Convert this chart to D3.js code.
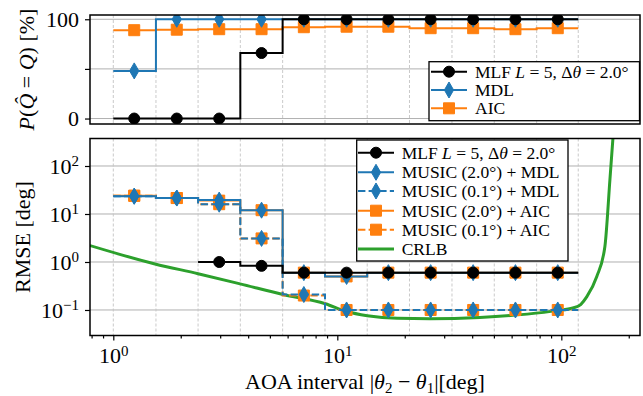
<!DOCTYPE html>
<html>
<head>
<meta charset="utf-8">
<script src="https://cdn.jsdelivr.net/npm/d3@7"></script>
<style>
  body { margin: 0; background: #fff; }
  svg { display: block; font-family: "Liberation Serif", serif; }
</style>
</head>
<body>
<svg id="chart" width="643" height="396"></svg>
<script>
// bin edges and bin centres of the AOA interval (deg)
const edges = [1.00, 1.55, 2.39, 3.69, 5.70, 8.81, 13.6, 21.0, 32.5, 50.2, 77.6, 119];
const mids  = [1.24, 1.92, 2.97, 4.59, 7.09, 11.0, 16.9, 26.1, 40.4, 62.4, 96.4];

// top panel: P(Q^ = Q) [%]
const pMLF = [0, 0, 0, 66, 100, 100, 100, 100, 100, 100, 100];
const pMDL = [48, 100, 100, 100, 100, 100, 100, 100, 100, 100, 100];
const pAIC = [89, 89.5, 90, 90, 92, 92.5, 92.5, 91, 91, 90, 91];

// bottom panel: RMSE [deg]
const rMLF    = [null, null, 1.0, 0.83, 0.6, 0.6, 0.6, 0.6, 0.6, 0.6, 0.6];
const rMDL2   = [23.5, 21.5, 19.5, 12, 0.6, 0.5, 0.6, 0.6, 0.6, 0.6, 0.6];
const rMDL01  = [23.5, 21.5, 16, 3.1, 0.21, 0.1, 0.1, 0.1, 0.1, 0.1, 0.1];
const rAIC2   = [24, 21.5, 19, 12, 0.6, 0.5, 0.6, 0.6, 0.6, 0.6, 0.6];
const rAIC01  = [24, 21.5, 16, 3.1, 0.2, 0.1, 0.1, 0.1, 0.1, 0.1, 0.1];

// CRLB curve [x, y]
const crlb = [[0.787, 2.2], [1.535, 0.91], [2.39, 0.57], [3.68, 0.35], [5.72, 0.21],
  [8.84, 0.135], [11.0, 0.093], [13.6, 0.076], [18.5, 0.067], [25.9, 0.066],
  [43.3, 0.07], [70.4, 0.082], [95.6, 0.097], [112.6, 0.11], [122, 0.13],
  [130, 0.19], [144, 0.5], [156.5, 2.1], [164.8, 52], [170, 380]];

const xMajor = [1, 10, 100];
const xMinor = [0.8, 0.9, 2, 3, 4, 5, 6, 7, 8, 9, 20, 30, 40, 50, 60, 70, 80, 90, 200];
const pTicks = [0, 50, 100];
const rTicks = [0.1, 1, 10, 100];

const C = { black: "#000", blue: "#1f77b4", orange: "#ff7f0e", green: "#2ca02c" };

const svg = d3.select("#chart");
const L = 90, R = 640;
const top1 = 15, bot1 = 124, top2 = 138.5, bot2 = 335.5;
const FS = 22, LFS = 17.5;

const x = d3.scaleLog().domain([0.787, 224.5]).range([L, R]);
const yP = d3.scaleLinear().domain([-5.5, 104.3]).range([bot1, top1]);
const yR = d3.scaleLog().domain([0.0294, 374]).range([bot2, top2]);

const defs = svg.append("defs");
defs.append("clipPath").attr("id", "clip1").append("rect")
  .attr("x", L).attr("y", top1).attr("width", R - L).attr("height", bot1 - top1);
defs.append("clipPath").attr("id", "clip2").append("rect")
  .attr("x", L).attr("y", top2).attr("width", R - L).attr("height", bot2 - top2);

function sup(sel, base, exp) {
  sel.text(null);
  sel.append("tspan").text(base);
  sel.append("tspan").attr("dy", "-0.5em").attr("font-size", "15px").text(exp);
}

function expLabel(v) {
  const e = Math.round(Math.log10(v));
  return e < 0 ? "\u2212" + (-e) : String(e);
}

// grid
function grid(g, y, yt, t, b) {
  g.selectAll(".hg").data(yt).join("line")
    .attr("x1", L).attr("x2", R).attr("y1", d => y(d)).attr("y2", d => y(d))
    .attr("stroke", "#b0b0b0").attr("stroke-width", 1);
  g.selectAll(".vg").data(edges).join("line")
    .attr("x1", d => x(d)).attr("x2", d => x(d)).attr("y1", t).attr("y2", b)
    .attr("stroke", "#c4c4c4").attr("stroke-width", 0.9).attr("stroke-dasharray", "3,2");
}
grid(svg.append("g"), yP, pTicks, top1, bot1);
grid(svg.append("g"), yR, rTicks, top2, bot2);

function stepPoints(vals) {
  const pts = [];
  let last = -1;
  vals.forEach((v, i) => { if (v != null) { pts.push([edges[i], v]); last = i; } });
  pts.push([edges[last + 1], vals[last]]);
  return pts;
}

const diamond = d3.symbol().type(d3.symbolDiamond).size(74)();
const square = d3.symbol().type(d3.symbolSquare).size(121)();
const circle = d3.symbol().type(d3.symbolCircle).size(95)();

function series(g, y, vals, color, dashed, marker) {
  const line = d3.line().x(d => x(d[0])).y(d => y(d[1])).curve(d3.curveStepAfter);
  g.append("path").datum(stepPoints(vals)).attr("d", line)
    .attr("fill", "none").attr("stroke", color).attr("stroke-width", 2)
    .attr("stroke-dasharray", dashed ? "7.4,3.2" : null);
  g.selectAll(null).data(vals.map((v, i) => [mids[i], v]).filter(d => d[1] != null))
    .join("path").attr("d", marker)
    .attr("transform", d => `translate(${x(d[0])},${y(d[1])})`)
    .attr("fill", color).attr("stroke", color).attr("stroke-width", 1);
}

// top panel
const g1 = svg.append("g").attr("clip-path", "url(#clip1)");
series(g1, yP, pAIC, C.orange, false, square);
series(g1, yP, pMDL, C.blue, false, diamond);
series(g1, yP, pMLF, C.black, false, circle);

// bottom panel
const g2 = svg.append("g").attr("clip-path", "url(#clip2)");
g2.append("path").datum(crlb)
  .attr("d", d3.line().x(d => x(d[0])).y(d => yR(d[1])).curve(d3.curveMonotoneX))
  .attr("fill", "none").attr("stroke", C.green).attr("stroke-width", 3);
series(g2, yR, rAIC01, C.orange, true, square);
series(g2, yR, rAIC2, C.orange, false, square);
series(g2, yR, rMDL01, C.blue, true, diamond);
series(g2, yR, rMDL2, C.blue, false, diamond);
series(g2, yR, rMLF, C.black, false, circle);

// frames
[[top1, bot1], [top2, bot2]].forEach(([t, b]) => {
  svg.append("rect").attr("x", L).attr("y", t).attr("width", R - L).attr("height", b - t)
    .attr("fill", "none").attr("stroke", "#000").attr("stroke-width", 1.5);
});

// axes
svg.append("g").attr("transform", `translate(${L},0)`)
  .call(d3.axisLeft(yP).tickValues(pTicks).tickSize(5).tickPadding(6)
    .tickFormat(d => d === 50 ? "" : d));
const ay2 = svg.append("g").attr("transform", `translate(${L},0)`)
  .call(d3.axisLeft(yR).tickValues(rTicks).tickSize(5).tickPadding(6).tickFormat(() => ""));
ay2.selectAll(".tick text").each(function (d) { sup(d3.select(this), "10", expLabel(d)); });

const ax = svg.append("g").attr("transform", `translate(0,${bot2})`)
  .call(d3.axisBottom(x).tickValues(xMajor).tickSize(5).tickPadding(7).tickFormat(() => ""));
ax.selectAll(".tick text").each(function (d) { sup(d3.select(this), "10", expLabel(d)); });
svg.append("g").attr("transform", `translate(0,${bot2})`)
  .call(d3.axisBottom(x).tickValues(xMinor).tickSize(3).tickFormat(() => ""));

svg.selectAll(".domain").remove();
svg.selectAll(".tick line").attr("stroke", "#000").attr("stroke-width", 1.2);
svg.selectAll(".tick text").attr("font-family", "Liberation Serif").attr("font-size", FS).attr("fill", "#000");

// axis labels
const xl = svg.append("text").attr("x", (L + R) / 2).attr("y", 389)
  .attr("text-anchor", "middle").attr("font-size", FS);
xl.append("tspan").text("AOA interval |");
xl.append("tspan").attr("font-style", "italic").text("\u03b8");
xl.append("tspan").attr("dy", 4).attr("font-size", 15).text("2");
xl.append("tspan").attr("dy", -4).text(" \u2212 ");
xl.append("tspan").attr("font-style", "italic").text("\u03b8");
xl.append("tspan").attr("dy", 4).attr("font-size", 15).text("1");
xl.append("tspan").attr("dy", -4).text("|[deg]");

const yl1 = svg.append("text").attr("transform", `translate(34,${(top1 + bot1) / 2}) rotate(-90)`)
  .attr("text-anchor", "middle").attr("font-size", FS);
yl1.append("tspan").attr("font-style", "italic").text("P");
yl1.append("tspan").text("(");
yl1.append("tspan").attr("font-style", "italic").text("Q\u0302");
yl1.append("tspan").text(" = ");
yl1.append("tspan").attr("font-style", "italic").text("Q");
yl1.append("tspan").text(") [%]");

svg.append("text").attr("transform", `translate(30,${(top2 + bot2) / 2}) rotate(-90)`)
  .attr("text-anchor", "middle").attr("font-size", FS).text("RMSE [deg]");

// legends
function mlfLabel(t) {
  t.append("tspan").text("MLF ");
  t.append("tspan").attr("font-style", "italic").text("L");
  t.append("tspan").text(" = 5, \u0394");
  t.append("tspan").attr("font-style", "italic").text("\u03b8");
  t.append("tspan").text(" = 2.0\u00b0");
}

function legend(box, hx0, hx1, tx, items) {
  const g = svg.append("g");
  g.append("rect").attr("x", box[0]).attr("y", box[1])
    .attr("width", box[2] - box[0]).attr("height", box[3] - box[1])
    .attr("fill", "#fff").attr("stroke", "#000").attr("stroke-width", 1.3);
  items.forEach(it => {
    g.append("line").attr("x1", hx0).attr("x2", hx1).attr("y1", it.y).attr("y2", it.y)
      .attr("stroke", it.color).attr("stroke-width", it.w || 2)
      .attr("stroke-dasharray", it.dashed ? "7.4,3.2" : null);
    if (it.marker) {
      g.append("path").attr("d", it.marker)
        .attr("transform", `translate(${(hx0 + hx1) / 2},${it.y})`)
        .attr("fill", it.color).attr("stroke", it.color);
    }
    const t = g.append("text").attr("x", tx).attr("y", it.y + 6).attr("font-size", LFS);
    if (it.label === "MLF") mlfLabel(t); else t.text(it.label);
  });
}

legend([429, 61.7, 639.5, 120.7], 431, 467, 475, [
  { y: 71.7, color: C.black, marker: circle, label: "MLF" },
  { y: 90, color: C.blue, marker: diamond, label: "MDL" },
  { y: 108.3, color: C.orange, marker: square, label: "AIC" }
]);

legend([356.7, 140, 568, 261], 358, 394, 401.7, [
  { y: 152.7, color: C.black, marker: circle, label: "MLF" },
  { y: 172.3, color: C.blue, marker: diamond, label: "MUSIC (2.0\u00b0) + MDL" },
  { y: 191, color: C.blue, marker: diamond, dashed: true, label: "MUSIC (0.1\u00b0) + MDL" },
  { y: 210.7, color: C.orange, marker: square, label: "MUSIC (2.0\u00b0) + AIC" },
  { y: 229.7, color: C.orange, marker: square, dashed: true, label: "MUSIC (0.1\u00b0) + AIC" },
  { y: 249, color: C.green, w: 3, label: "CRLB" }
]);
</script>
</body>
</html>
